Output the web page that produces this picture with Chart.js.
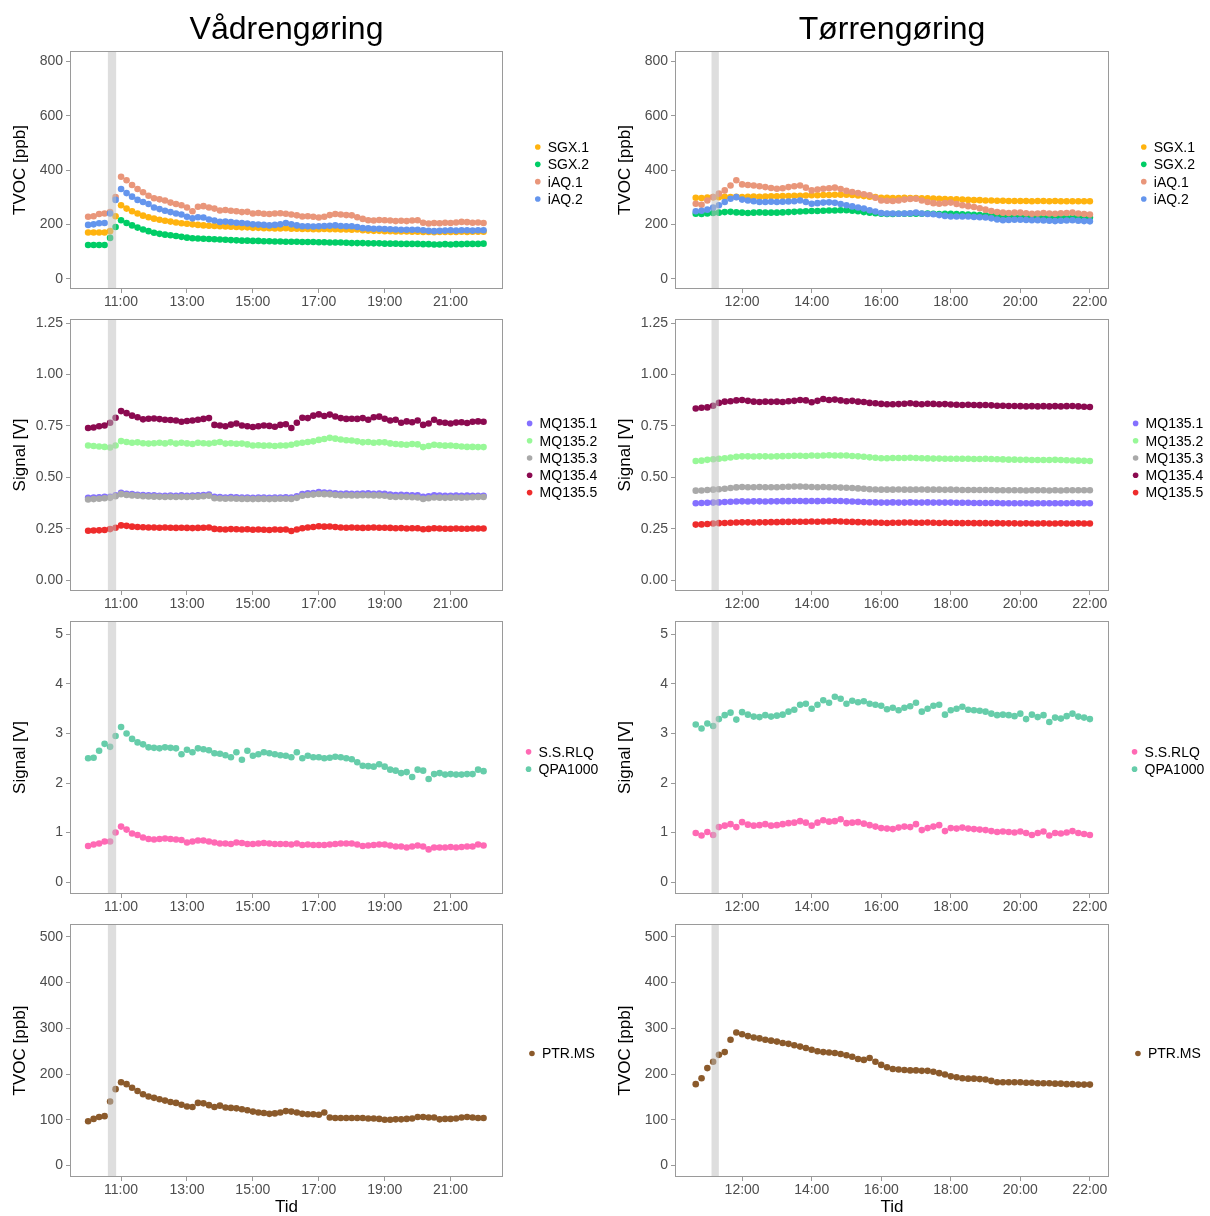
<!DOCTYPE html>
<html>
<head>
<meta charset="utf-8">
<script src="https://cdn.jsdelivr.net/npm/chart.js@4.4.0/dist/chart.umd.min.js"></script>
<style>
  body { margin: 0; background: #fff; width: 1210px; height: 1216px; position: relative; overflow: hidden; }
  canvas { position: absolute; }
</style>
</head>
<body>
<canvas id="v1"></canvas><canvas id="v2"></canvas><canvas id="v3"></canvas><canvas id="v4"></canvas>
<canvas id="t1"></canvas><canvas id="t2"></canvas><canvas id="t3"></canvas><canvas id="t4"></canvas>
<script>
// tid (timer) - en maaling hvert 10. minut
const tidVaad = []
for (let m = 600; m <= 1320; m += 10) tidVaad.push(m / 60)
const tidToerr = []
for (let m = 640; m <= 1320; m += 10) tidToerr.push(m / 60)

const baandVaad = [10.60, 10.85]
const baandToerr = [11.12, 11.33]

const xTicksVaad = [11, 13, 15, 17, 19, 21]
const xTicksToerr = [12, 14, 16, 18, 20, 22]
const yTicksTvoc = [0, 200, 400, 600, 800]
const yTicksMq = [0, 0.25, 0.5, 0.75, 1, 1.25]
const yTicksSignal = [0, 1, 2, 3, 4, 5]
const yTicksPtr = [0, 100, 200, 300, 400, 500]

// ---- Vaadrengoering ----
const vSGX1 = [170,170,170,170, 175,230, 270, 258,248,240,232,226,
  221,217,213,210,207,204, 202,200,198,196,195,194, 193,192,191,190,189,189,
  187,187,186,186,185,185, 186,184,184,183,183,182, 182,183,182,182,181,181,
  180,181,178,177,176,176, 175,175,174,174,174,173, 173,172,172,171,172,172,
  172,172,173,172,173,173, 173]
const vSGX2 = [124,124,124,124, 150,190, 215, 205,196,188,181,175,
  169,165,162,160,157,154, 151,149,148,147,146,145, 144,143,142,141,140,140,
  139,139,138,138,137,137, 136,136,136,135,135,135, 134,134,133,133,133,132,
  131,131,131,130,130,130, 129,129,129,128,128,128, 128,127,127,126,126,127,
  126,127,127,128,128,128, 129]
const vIAQ1 = [228,230,238,240, 245,300, 375, 362,345,330,318,305,
  296,292,288,280,275,270, 262,248,265,267,262,258, 251,253,250,248,245,246,
  240,242,239,238,240,241, 239,236,233,229,230,228, 225,228,234,238,236,234,
  233,226,220,215,214,216, 215,214,212,213,212,214, 215,206,203,205,204,206,
  205,207,209,208,206,207, 205]
const vIAQ2 = [198,200,204,205, 240,290, 330, 315,302,290,282,275,
  262,256,250,245,240,236, 228,222,226,225,218,214, 209,210,208,206,205,203,
  200,199,198,196,198,200, 205,200,196,193,193,192, 193,194,195,196,194,193,
  193,190,186,185,184,184, 183,182,181,180,180,180, 180,178,176,175,176,177,
  178,177,178,178,177,178, 178]

const vMQ1 = [0.400,0.402,0.403,0.405, 0.405,0.412, 0.425, 0.420,0.418,0.415,0.414,0.412,
  0.412,0.410,0.410,0.411,0.410,0.412, 0.410,0.411,0.412,0.414,0.416,0.405,
  0.404,0.402,0.404,0.403,0.402,0.401, 0.400,0.401,0.402,0.400,0.401,0.402,
  0.403,0.402,0.408,0.418,0.422,0.424, 0.428,0.426,0.425,0.422,0.420,0.421,
  0.420,0.420,0.421,0.422,0.420,0.421, 0.420,0.416,0.414,0.415,0.414,0.413,
  0.412,0.405,0.408,0.412,0.411,0.410, 0.410,0.411,0.410,0.411,0.410,0.410, 0.410]
const vMQ2 = [0.655,0.652,0.650,0.648, 0.645,0.655, 0.676, 0.672,0.668,0.670,0.666,0.664,
  0.666,0.668,0.665,0.670,0.664,0.668, 0.665,0.662,0.668,0.666,0.664,0.668,
  0.672,0.664,0.666,0.663,0.664,0.660, 0.655,0.656,0.654,0.655,0.652,0.655,
  0.655,0.658,0.664,0.668,0.672,0.675, 0.682,0.686,0.692,0.688,0.684,0.680,
  0.679,0.675,0.670,0.672,0.668,0.670, 0.670,0.665,0.662,0.660,0.658,0.662,
  0.660,0.647,0.652,0.658,0.656,0.654, 0.655,0.652,0.650,0.648,0.648,0.647, 0.647]
const vMQ3 = [0.392,0.394,0.396,0.398, 0.400,0.408, 0.418, 0.414,0.412,0.410,0.408,0.407,
  0.406,0.405,0.404,0.405,0.404,0.405, 0.404,0.405,0.406,0.408,0.410,0.398,
  0.397,0.396,0.397,0.396,0.395,0.395, 0.394,0.395,0.395,0.394,0.395,0.396,
  0.396,0.395,0.400,0.410,0.414,0.416, 0.419,0.418,0.417,0.414,0.412,0.413,
  0.412,0.412,0.413,0.413,0.412,0.412, 0.410,0.406,0.404,0.405,0.404,0.403,
  0.402,0.395,0.398,0.402,0.401,0.400, 0.401,0.402,0.401,0.402,0.403,0.404, 0.404]
const vMQ4 = [0.740,0.742,0.748,0.752, 0.765,0.790, 0.822, 0.812,0.800,0.792,0.782,0.785,
  0.786,0.783,0.780,0.779,0.776,0.770, 0.774,0.776,0.780,0.784,0.788,0.755,
  0.752,0.748,0.756,0.762,0.752,0.748, 0.745,0.748,0.752,0.750,0.746,0.755,
  0.758,0.740,0.765,0.790,0.788,0.800, 0.806,0.798,0.805,0.796,0.788,0.784,
  0.785,0.784,0.788,0.780,0.792,0.795, 0.785,0.776,0.780,0.765,0.772,0.768,
  0.776,0.755,0.762,0.780,0.768,0.765, 0.762,0.766,0.768,0.764,0.770,0.772, 0.770]
const vMQ5 = [0.240,0.241,0.242,0.244, 0.248,0.255, 0.266, 0.264,0.260,0.258,0.257,0.256,
  0.256,0.255,0.256,0.255,0.254,0.255, 0.254,0.253,0.254,0.255,0.256,0.249,
  0.247,0.246,0.248,0.247,0.246,0.247, 0.245,0.246,0.245,0.244,0.246,0.245,
  0.246,0.239,0.246,0.252,0.256,0.258, 0.262,0.260,0.261,0.258,0.256,0.255,
  0.256,0.255,0.254,0.255,0.256,0.255, 0.255,0.254,0.252,0.253,0.251,0.252,
  0.252,0.247,0.249,0.252,0.251,0.250, 0.250,0.251,0.250,0.250,0.251,0.251, 0.251]

const vRLQ = [0.73,0.76,0.78,0.82, 0.82,1.00, 1.12, 1.06,0.98,0.95,0.90,0.87,
  0.86,0.87,0.88,0.87,0.86,0.85, 0.80,0.82,0.84,0.84,0.82,0.80,
  0.78,0.78,0.77,0.80,0.79,0.77, 0.77,0.78,0.79,0.78,0.77,0.77,
  0.77,0.76,0.78,0.75,0.76,0.75, 0.75,0.75,0.76,0.77,0.78,0.78,
  0.78,0.76,0.73,0.74,0.75,0.76, 0.76,0.74,0.72,0.72,0.70,0.72,
  0.74,0.72,0.66,0.70,0.70,0.70, 0.71,0.70,0.71,0.72,0.72,0.76, 0.74]
const vQPA = [2.50,2.51,2.65,2.79, 2.73,2.95, 3.13, 3.00,2.89,2.82,2.78,2.72,
  2.71,2.70,2.72,2.71,2.70,2.58, 2.67,2.62,2.70,2.68,2.66,2.60,
  2.59,2.56,2.52,2.62,2.47,2.65, 2.55,2.58,2.62,2.60,2.58,2.56,
  2.55,2.52,2.62,2.50,2.55,2.52, 2.52,2.50,2.51,2.53,2.52,2.50,
  2.48,2.42,2.35,2.34,2.33,2.38, 2.33,2.27,2.25,2.20,2.22,2.12,
  2.27,2.25,2.08,2.18,2.20,2.17, 2.18,2.17,2.17,2.18,2.18,2.27, 2.24]

const vPTR = [97,102,106,108, 140,167, 182, 178,170,163,156,151,
  148,145,142,139,137,133, 129,128,137,136,132,128, 131,127,126,125,123,121,
  118,116,115,113,114,116, 119,118,116,113,112,112, 111,116,105,104,104,104,
  104,104,104,103,103,102, 100,100,101,101,102,103, 106,106,105,105,101,102,
  102,103,105,106,105,104, 104]

// ---- Toerrengoering ----
const tSGX1 = [298,297,299,300,300,301,300,301,
  300,301,302,301,302,303, 303,304,304,305,305,306, 307,307,308,308,309,309,
  309,308,306,304,302,300, 298,298,297,297,298,297, 297,296,296,295,294,293,
  292,292,291,290,289,289, 288,288,287,287,286,286, 286,286,285,286,286,285,
  286,285,285,285,285,285, 285]
const tSGX2 = [239,238,240,242,243,245,246,244,
  243,242,243,244,243,243, 243,244,245,246,247,248, 249,249,250,251,251,252,
  252,250,248,245,243,241, 239,238,238,239,239,239, 239,239,240,239,238,239,
  239,238,237,236,235,234, 233,232,231,230,229,228, 227,227,226,226,225,225,
  225,225,224,225,225,225, 225]
const tIAQ1 = [276,272,288,300,313,325,343,362,
  347,345,343,340,337,334, 331,333,337,340,343,335, 325,328,331,333,335,330,
  323,319,315,311,307,298, 288,287,286,288,291,293, 294,288,282,278,276,278,
  280,275,270,267,264,259, 254,249,245,243,242,243, 243,241,239,240,242,240,
  239,241,242,243,240,238, 236]
const tIAQ2 = [248,250,254,262,270,282,294,300,
  291,288,285,282,282,283, 282,283,284,285,288,282, 276,278,280,281,279,275,
  270,266,262,258,252,247, 242,240,240,239,240,241, 243,240,238,237,234,231,
  229,229,229,229,227,226, 225,222,218,215,216,217, 217,216,215,215,214,213,
  212,213,214,215,213,212, 211]

const tMQ1 = [0.374,0.375,0.376,0.377,0.378,0.380,0.381,0.382,
  0.383,0.382,0.383,0.383,0.382,0.383, 0.383,0.384,0.384,0.385,0.385,0.384,
  0.385,0.384,0.385,0.386,0.385,0.385, 0.383,0.382,0.381,0.380,0.379,0.378,
  0.377,0.377,0.378,0.377,0.377,0.378, 0.377,0.377,0.378,0.377,0.377,0.377,
  0.377,0.376,0.376,0.376,0.375,0.375, 0.375,0.375,0.375,0.374,0.374,0.374,
  0.374,0.374,0.373,0.374,0.374,0.374, 0.374,0.374,0.374,0.375,0.374,0.374, 0.374]
const tMQ2 = [0.579,0.581,0.585,0.588,0.590,0.593,0.596,0.600,
  0.602,0.602,0.601,0.602,0.602,0.601, 0.602,0.603,0.604,0.605,0.605,0.604,
  0.606,0.605,0.606,0.607,0.606,0.606, 0.606,0.604,0.602,0.600,0.597,0.595,
  0.593,0.593,0.594,0.594,0.594,0.595, 0.594,0.593,0.592,0.591,0.591,0.590,
  0.590,0.590,0.590,0.590,0.589,0.589, 0.590,0.589,0.588,0.587,0.586,0.586,
  0.585,0.585,0.584,0.584,0.584,0.584, 0.585,0.584,0.583,0.582,0.581,0.580, 0.579]
const tMQ3 = [0.435,0.436,0.438,0.440,0.442,0.444,0.448,0.451,
  0.453,0.452,0.452,0.453,0.452,0.452, 0.452,0.453,0.454,0.455,0.455,0.454,
  0.453,0.452,0.453,0.452,0.452,0.450, 0.449,0.448,0.446,0.444,0.442,0.441,
  0.440,0.440,0.440,0.441,0.440,0.440, 0.440,0.441,0.440,0.440,0.440,0.439,
  0.440,0.439,0.438,0.438,0.438,0.438, 0.438,0.438,0.437,0.437,0.437,0.437,
  0.437,0.436,0.437,0.437,0.437,0.436, 0.437,0.436,0.437,0.437,0.437,0.437, 0.437]
const tMQ4 = [0.835,0.838,0.840,0.848,0.862,0.868,0.870,0.874,
  0.876,0.872,0.868,0.866,0.868,0.867, 0.868,0.866,0.870,0.872,0.876,0.874,
  0.865,0.872,0.881,0.876,0.878,0.874, 0.870,0.872,0.868,0.866,0.862,0.860,
  0.857,0.855,0.855,0.856,0.858,0.860, 0.857,0.855,0.858,0.857,0.855,0.856,
  0.854,0.853,0.852,0.853,0.852,0.851, 0.852,0.850,0.848,0.848,0.847,0.847,
  0.846,0.845,0.846,0.845,0.846,0.845, 0.846,0.845,0.846,0.847,0.845,0.843, 0.842]
const tMQ5 = [0.270,0.271,0.273,0.275,0.277,0.278,0.279,0.280,
  0.281,0.281,0.280,0.281,0.281,0.282, 0.282,0.283,0.283,0.284,0.284,0.284,
  0.285,0.284,0.285,0.285,0.286,0.285, 0.284,0.283,0.282,0.281,0.280,0.280,
  0.279,0.278,0.279,0.279,0.280,0.280, 0.279,0.279,0.280,0.279,0.278,0.279,
  0.278,0.278,0.277,0.278,0.277,0.277, 0.277,0.276,0.277,0.276,0.276,0.276,
  0.275,0.276,0.275,0.275,0.276,0.275, 0.275,0.276,0.275,0.275,0.276,0.275, 0.275]

const tRLQ = [0.99,0.94,1.01,0.95,1.11,1.14,1.17,1.11,
  1.21,1.16,1.14,1.15,1.17,1.14, 1.15,1.17,1.19,1.20,1.23,1.20,
  1.14,1.20,1.25,1.22,1.23,1.27, 1.19,1.20,1.21,1.18,1.15,1.12,
  1.09,1.08,1.07,1.10,1.12,1.11, 1.17,1.05,1.09,1.12,1.15,1.03,
  1.09,1.08,1.10,1.08,1.07,1.06, 1.05,1.03,1.01,1.02,1.01,1.00,
  1.02,0.99,0.95,0.99,1.02,0.94, 0.99,0.98,1.00,1.03,0.99,0.97, 0.95]
const tQPA = [3.18,3.10,3.20,3.15,3.29,3.37,3.42,3.28,
  3.43,3.38,3.34,3.33,3.37,3.34, 3.36,3.38,3.44,3.48,3.58,3.60,
  3.50,3.58,3.67,3.62,3.74,3.70, 3.60,3.66,3.63,3.65,3.60,3.58,
  3.56,3.49,3.52,3.47,3.52,3.55, 3.62,3.44,3.50,3.56,3.58,3.38,
  3.47,3.50,3.54,3.48,3.47,3.46, 3.44,3.40,3.37,3.38,3.37,3.35,
  3.40,3.29,3.38,3.33,3.37,3.23, 3.32,3.30,3.35,3.40,3.34,3.32, 3.29]

const tPTR = [178,191,213,227,242,248,275,291,
  287,283,280,278,275,273, 271,268,266,263,260,257, 253,250,248,247,246,244,
  241,238,233,231,235,227, 220,215,211,210,209,208, 208,207,207,205,202,199,
  195,193,191,190,190,189, 188,185,182,182,182,182, 182,181,181,180,180,180,
  179,179,178,178,177,177, 177]

const farver = {
  'SGX.1': '#FFB30F', 'SGX.2': '#00CD66', 'iAQ.1': '#E9967A', 'iAQ.2': '#6495ED',
  'MQ135.1': '#8470FF', 'MQ135.2': '#98F898', 'MQ135.3': '#A9A9A9', 'MQ135.4': '#8B0A50', 'MQ135.5': '#EE2C2C',
  'S.S.RLQ': '#FF69B4', 'QPA1000': '#66CDAA', 'PTR.MS': '#8B5A2B'
}

const skrift = "'Liberation Sans', Arial, sans-serif"
Chart.defaults.font.family = skrift

// graa baand, panelramme og signaturforklaring
const rammePlugin = {
  id: 'ramme',
  afterDatasetsDraw(chart, args, opts) {
    const ctx = chart.ctx
    const a = chart.chartArea
    const x = chart.scales.x
    const x0 = x.getPixelForValue(opts.baand[0])
    const x1 = x.getPixelForValue(opts.baand[1])
    ctx.save()
    ctx.fillStyle = 'rgba(190,190,190,0.5)'
    ctx.fillRect(x0, a.top, x1 - x0, a.bottom - a.top)
    ctx.strokeStyle = '#9a9a9a'
    ctx.lineWidth = 1
    ctx.strokeRect(Math.round(a.left) + 0.5, Math.round(a.top) + 0.5, Math.round(a.width) - 1, Math.round(a.height) - 1)

    // signaturforklaring, centreret i feltet til hoejre for panelet
    const ds = chart.data.datasets
    ctx.font = '14px ' + skrift
    ctx.textBaseline = 'middle'
    ctx.textAlign = 'left'
    const tekstB = Math.max(...ds.map(d => ctx.measureText(d.label).width))
    const prikX = a.right + 59 - (7.2 + tekstB) / 2
    const midt = (a.top + a.bottom) / 2 + 3
    ds.forEach((d, i) => {
      const y = midt + (i - (ds.length - 1) / 2) * 17.3
      ctx.fillStyle = d.backgroundColor
      ctx.beginPath()
      ctx.arc(prikX, y, 2.8, 0, Math.PI * 2)
      ctx.fill()
      ctx.fillStyle = '#000'
      ctx.fillText(d.label, prikX + 10, y + 1)
    })
    ctx.restore()
  }
}

const kolonner = [
  { left: 0, tider: tidVaad, xmin: 9.45, xmax: 22.59, xticks: xTicksVaad, baand: baandVaad, padRight: 102, titel: 'Vådrengøring' },
  { left: 605, tider: tidToerr, xmin: 10.07, xmax: 22.55, xticks: xTicksToerr, baand: baandToerr, padRight: 101, titel: 'Tørrengøring' }
]
const raekker = [
  { top: 0, h: 312, padTop: 0, xH: 23, ymin: -38, ymax: 838, yticks: yTicksTvoc, ytitel: 'TVOC [ppb]', dec: 0 },
  { top: 312, h: 303, padTop: 7, xH: 24, ymin: -0.053, ymax: 1.27, yticks: yTicksMq, ytitel: 'Signal [V]', dec: 2 },
  { top: 615, h: 302, padTop: 6, xH: 23, ymin: -0.24, ymax: 5.27, yticks: yTicksSignal, ytitel: 'Signal [V]', dec: 0 },
  { top: 917, h: 299, padTop: 7, xH: 39, ymin: -25, ymax: 528, yticks: yTicksPtr, ytitel: 'TVOC [ppb]', dec: 0 }
]

const serier = [
  [
    [['SGX.1', vSGX1], ['SGX.2', vSGX2], ['iAQ.1', vIAQ1], ['iAQ.2', vIAQ2]],
    [['MQ135.1', vMQ1], ['MQ135.2', vMQ2], ['MQ135.3', vMQ3], ['MQ135.4', vMQ4], ['MQ135.5', vMQ5]],
    [['S.S.RLQ', vRLQ], ['QPA1000', vQPA]],
    [['PTR.MS', vPTR]]
  ],
  [
    [['SGX.1', tSGX1], ['SGX.2', tSGX2], ['iAQ.1', tIAQ1], ['iAQ.2', tIAQ2]],
    [['MQ135.1', tMQ1], ['MQ135.2', tMQ2], ['MQ135.3', tMQ3], ['MQ135.4', tMQ4], ['MQ135.5', tMQ5]],
    [['S.S.RLQ', tRLQ], ['QPA1000', tQPA]],
    [['PTR.MS', tPTR]]
  ]
]

const ids = [['v1', 'v2', 'v3', 'v4'], ['t1', 't2', 't3', 't4']]

kolonner.forEach((k, ki) => {
  raekker.forEach((r, ri) => {
    const cv = document.getElementById(ids[ki][ri])
    cv.width = 605
    cv.height = r.h
    cv.style.left = k.left + 'px'
    cv.style.top = r.top + 'px'

    const datasets = serier[ki][ri].map(([navn, vaerdier], i) => ({
      label: navn,
      data: vaerdier.map((v, j) => ({ x: k.tider[j], y: v })),
      backgroundColor: farver[navn],
      borderColor: farver[navn],
      borderWidth: 0,
      pointRadius: 3.3,
      pointHoverRadius: 3.3,
      order: -i
    }))

    new Chart(cv, {
      type: 'scatter',
      data: { datasets },
      plugins: [rammePlugin],
      options: {
        responsive: false,
        animation: false,
        events: [],
        devicePixelRatio: 1,
        layout: { padding: { left: 0, right: k.padRight, top: r.padTop, bottom: 0 } },
        plugins: {
          legend: { display: false },
          tooltip: { enabled: false },
          title: {
            display: ri === 0,
            text: k.titel,
            fullSize: false,
            color: '#000',
            font: { size: 32, weight: 'normal' },
            padding: { top: 11, bottom: 1.6 }
          },
          ramme: { baand: k.baand }
        },
        scales: {
          x: {
            type: 'linear',
            min: k.xmin,
            max: k.xmax,
            afterBuildTicks: s => { s.ticks = k.xticks.map(v => ({ value: v })) },
            afterFit: s => { s.height = r.xH; s.paddingLeft = 0; s.paddingRight = 0 },
            ticks: {
              autoSkip: false, maxRotation: 0, padding: 1,
              color: '#4D4D4D', font: { size: 14 },
              callback: v => v + ':00'
            },
            grid: { drawOnChartArea: false, drawTicks: true, tickLength: 4, color: '#9a9a9a' },
            border: { display: false },
            title: {
              display: ri === 3, text: 'Tid', color: '#000',
              font: { size: 17 }, padding: { top: 0, bottom: -2 }
            }
          },
          y: {
            min: r.ymin,
            max: r.ymax,
            afterBuildTicks: s => { s.ticks = r.yticks.map(v => ({ value: v })) },
            afterFit: s => { s.width = 70; s.paddingTop = 0; s.paddingBottom = 0 },
            ticks: {
              padding: 3, color: '#4D4D4D', font: { size: 14 },
              callback: v => v.toFixed(r.dec)
            },
            grid: { drawOnChartArea: false, drawTicks: true, tickLength: 4, color: '#9a9a9a' },
            border: { display: false },
            title: {
              display: true, text: r.ytitel, color: '#000',
              font: { size: 17 }, padding: { top: 10, bottom: 0 }
            }
          }
        }
      }
    })
  })
})
</script>
</body>
</html>
